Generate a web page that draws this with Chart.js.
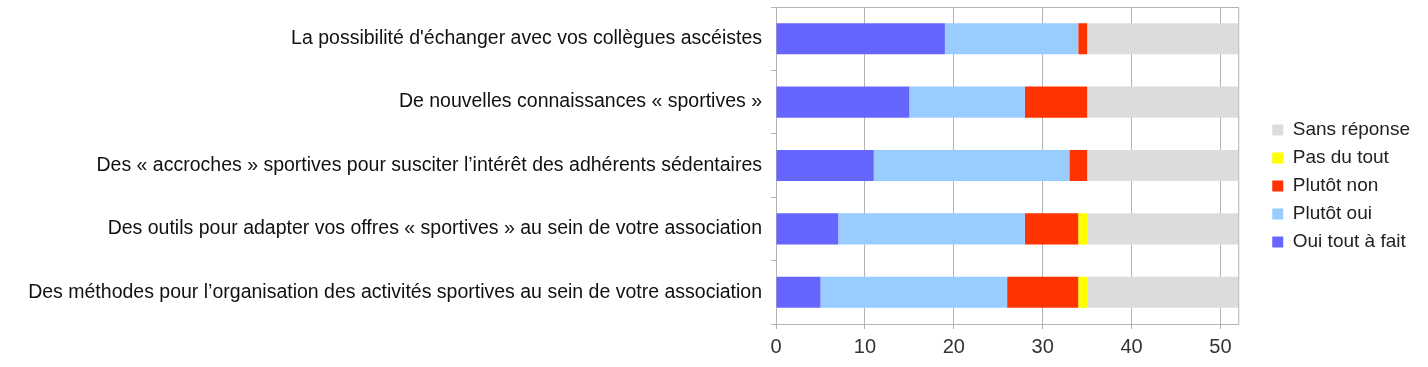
<!DOCTYPE html>
<html>
<head>
<meta charset="utf-8">
<script src="https://cdn.jsdelivr.net/npm/chart.js@4/dist/chart.umd.min.js"></script>
<style>
  html, body { margin: 0; padding: 0; background: #fff; }
  #wrap { width: 1428px; height: 367px; }
</style>
</head>
<body>
<div id="wrap"><canvas id="chart"></canvas></div>
<script>
const categories = [
  "La possibilité d'échanger avec vos collègues ascéistes",
  'De nouvelles connaissances « sportives »',
  'Des « accroches » sportives pour susciter l’intérêt des adhérents sédentaires',
  'Des outils pour adapter vos offres « sportives » au sein de votre association',
  'Des méthodes pour l’organisation des activités sportives au sein de votre association',
];

const seriesNames  = ['Oui tout à fait', 'Plutôt oui', 'Plutôt non', 'Pas du tout', 'Sans réponse'];
const seriesColors = ['#6666ff', '#99ccff', '#ff3300', '#ffff00', '#dcdcdc'];

const ouiToutAFait = [19, 15, 11, 7, 5];
const plutotOui    = [15, 13, 22, 21, 21];
const plutotNon    = [1, 7, 2, 6, 8];
const pasDuTout    = [0, 0, 0, 1, 1];
const sansReponse  = [17, 17, 17, 17, 17];

const xTicks = [0, 10, 20, 30, 40, 50];
const xMax   = 52;

const seriesValues = [ouiToutAFait, plutotOui, plutotNon, pasDuTout, sansReponse];
const FONT = 'Liberation Sans, Arial, sans-serif';

// top and right edges of the plot frame
const frame = {
  id: 'frame',
  afterDatasetsDraw(chart) {
    const a = chart.chartArea, c = chart.ctx;
    c.save();
    c.strokeStyle = '#b3b3b3';
    c.lineWidth = 1;
    c.beginPath();
    c.moveTo(a.left, a.top + 0.5); c.lineTo(a.right + 0.5, a.top + 0.5);
    c.lineTo(a.right + 0.5, a.bottom);
    c.stroke();
    c.restore();
  }
};

new Chart(document.getElementById('chart'), {
  type: 'bar',
  data: {
    labels: categories,
    datasets: seriesNames.map((name, i) => ({
      label: name,
      data: seriesValues[i],
      backgroundColor: seriesColors[i],
      borderWidth: 0,
      barPercentage: 0.49,
      categoryPercentage: 1,
    })),
  },
  options: {
    indexAxis: 'y',
    responsive: true, maintainAspectRatio: false,
    animation: false,
    layout: { padding: { top: 7, right: 8, bottom: 2, left: 0 } },
    plugins: {
      tooltip: { enabled: false },
      legend: {
        position: 'right', reverse: true,
        labels: {
          color: '#222', font: { family: FONT, size: 19 },
          boxWidth: 11, boxHeight: 11, padding: 9,
        },
      },
    },
    scales: {
      x: {
        stacked: true, min: 0, max: xMax,
        afterBuildTicks: s => { s.ticks = xTicks.map(v => ({ value: v })); },
        grid: { color: '#b3b3b3', tickLength: 5 },
        border: { color: '#b3b3b3' },
        ticks: { color: '#333', font: { family: FONT, size: 20 }, padding: 6 },
      },
      y: {
        stacked: true,
        afterFit: s => { s.width = 776; s.paddingTop = 0; s.paddingBottom = 0; },
        grid: { color: '#b3b3b3', drawOnChartArea: false, offset: true, tickLength: 5 },
        border: { color: '#b3b3b3' },
        ticks: { color: '#111', font: { family: FONT, size: 19.5 }, padding: 9 },
      },
      gap: {
        type: 'linear', position: 'right', axis: 'y',
        afterFit: s => { s.width = 25; },
        grid: { display: false }, border: { display: false }, ticks: { display: false },
      },
    },
  },
  plugins: [frame],
});
</script>
</body>
</html>
